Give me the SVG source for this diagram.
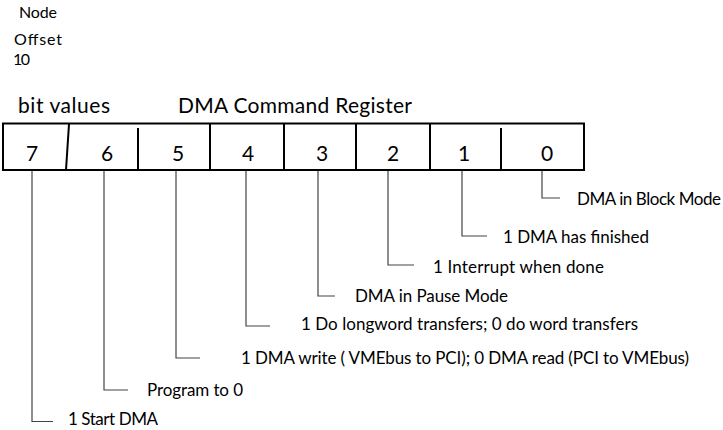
<svg xmlns="http://www.w3.org/2000/svg" width="723" height="430" viewBox="0 0 723 430">
<style>
text{font-family:Lato,"Liberation Sans",sans-serif;fill:#000}
.top{font-size:16px}
.hdr{font-size:21px}
.dig{font-size:21px;text-anchor:middle}
.lbl{font-size:17px}
.box{fill:#fff;stroke:#000;stroke-width:2}
.div{stroke:#000;stroke-width:2;fill:none}
.lead{stroke:#444;stroke-width:1.2;fill:none}
</style>
<rect width="723" height="430" fill="#fff"/>
<g id="offset-labels">
<text class="top" x="19" y="18" textLength="38">Node</text>
<text class="top" x="14" y="45" textLength="48">Offset</text>
<text class="top" x="13" y="65" textLength="17">10</text>
</g>
<g id="headers">
<text class="hdr" x="18" y="113" textLength="92">bit values</text>
<text class="hdr" x="178" y="113" textLength="234">DMA Command Register</text>
</g>
<g id="register">
<rect class="box" x="3" y="123.5" width="581" height="46.5"/>
<path class="div" d="M69 124L66 170M138 128V170M210 124V170M284 124V170M356 124V170M430 124V170M501 128V170"/>
<text class="dig" x="32" y="161">7</text>
<text class="dig" x="107" y="161">6</text>
<text class="dig" x="178" y="161">5</text>
<text class="dig" x="248" y="161">4</text>
<text class="dig" x="322" y="161">3</text>
<text class="dig" x="393" y="161">2</text>
<text class="dig" x="464" y="161">1</text>
<text class="dig" x="547" y="161">0</text>
</g>
<g id="connectors">
<path class="lead" d="M32 171V421.5H53"/>
<path class="lead" d="M104 171V390H128"/>
<path class="lead" d="M176 171V358H200"/>
<path class="lead" d="M246 171V326H270"/>
<path class="lead" d="M318 171V296H335"/>
<path class="lead" d="M388 171V265H414"/>
<path class="lead" d="M462 171V236H487"/>
<path class="lead" d="M542 171V198H560"/>
</g>
<g id="bit7"><text class="lbl" x="68" y="425" textLength="90">1 Start DMA</text></g>
<g id="bit6"><text class="lbl" x="147" y="396" textLength="96">Program to 0</text></g>
<g id="bit5"><text class="lbl" x="241" y="364" textLength="448">1 DMA write ( VMEbus to PCI); 0 DMA read (PCI to VMEbus)</text></g>
<g id="bit4"><text class="lbl" x="301" y="330" textLength="337">1 Do longword transfers; 0 do word transfers</text></g>
<g id="bit3"><text class="lbl" x="355" y="302" textLength="153">DMA in Pause Mode</text></g>
<g id="bit2"><text class="lbl" x="433" y="273" textLength="171">1 Interrupt when done</text></g>
<g id="bit1"><text class="lbl" x="503" y="243" textLength="146">1 DMA has finished</text></g>
<g id="bit0"><text class="lbl" x="577" y="205" textLength="144">DMA in Block Mode</text></g>
</svg>
